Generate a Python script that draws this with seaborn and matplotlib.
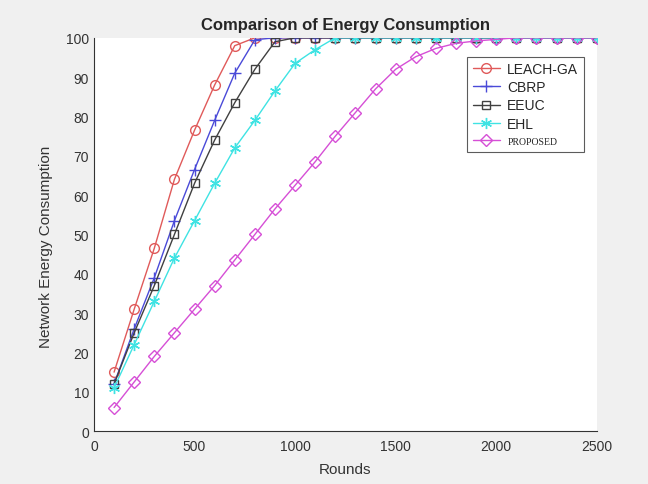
import numpy as np
import pandas as pd
import matplotlib
matplotlib.use("Agg")
import matplotlib.pyplot as plt
import seaborn as sns

rounds = list(range(100, 2600, 100))
leach_ga = [15, 31, 46.5, 64, 76.5, 88, 98, 100, 100] + [100] * 16
cbrp = [12, 26, 39, 53.5, 66.5, 79, 91, 99.5, 100] + [100] * 16
eeuc = [12, 25, 37, 50, 63, 74, 83.5, 92, 99, 100] + [100] * 15
ehl = [11, 22, 33, 44, 53.5, 63, 72, 79, 86.5, 93.5, 97, 100] + [100] * 13
proposed = [6, 12.5, 19, 25, 31, 37, 43.5, 50, 56.5, 62.5, 68.5, 75, 81, 87,
            92, 95.2, 97.3, 98.6, 99.2, 99.6, 100, 100, 100, 100, 100]
names = ["LEACH-GA", "CBRP", "EEUC", "EHL", "PROPOSED"]

sns.set_style("white")
plt.rcParams['font.family'] = ['Liberation Sans', 'DejaVu Sans']

fig = plt.figure(figsize=(6.48, 4.85), dpi=100, facecolor="#f0f0f0")
ax = fig.add_axes([0.145, 0.109, 0.776, 0.811])
ax.set_facecolor("white")

series = [leach_ga, cbrp, eeuc, ehl, proposed]
colors = ["#e05a5a", "#4a4ad8", "#404040", "#3fe3e3", "#d64fd6"]
markers = ["o", "+", "s", (6, 2, 0), "D"]
msizes = [7, 8, 5.5, 8, 6]
for name, vals, c, m, ms in zip(names, series, colors, markers, msizes):
    df = pd.DataFrame({"Rounds": rounds, "val": vals})
    sns.lineplot(data=df, x="Rounds", y="val", ax=ax, color=c, marker=m,
                 markersize=ms, markerfacecolor="none", markeredgecolor=c,
                 markeredgewidth=1.0, linewidth=1.0, label=name)

ax.set_xlim(0, 2500)
ax.set_ylim(0, 100)
ax.set_xticks(range(0, 2501, 500))
ax.set_yticks(range(0, 101, 10))
ax.tick_params(direction="in", length=4, labelsize=10, colors="#333333",
               width=0.8)
ax.tick_params(axis="x", pad=6)
for s in ["top", "right"]:
    ax.spines[s].set_visible(False)
for s in ["left", "bottom"]:
    ax.spines[s].set_color("#333333")
    ax.spines[s].set_linewidth(0.8)

ax.set_xlabel("Rounds", fontsize=11, color="#333333", labelpad=6)
ax.set_ylabel("Network Energy Consumption", fontsize=11, color="#333333")
ax.yaxis.set_label_coords(-0.082, 0.47)
ax.set_title("Comparison of Energy Consumption", fontsize=12, fontweight="bold",
             pad=6)

leg = ax.legend(loc="upper left", bbox_to_anchor=(0.728, 0.97), fontsize=10,
                frameon=True, fancybox=False, edgecolor="#333333",
                handlelength=2.0, borderpad=0.4, labelspacing=0.3,
                handletextpad=0.5)
leg.get_frame().set_linewidth(0.8)
for t in leg.get_texts():
    if t.get_text() == "PROPOSED":
        t.set_fontfamily(["Liberation Serif", "DejaVu Serif"])
        t.set_fontsize(7)

fig.savefig("out.png", dpi=100, facecolor=fig.get_facecolor())
